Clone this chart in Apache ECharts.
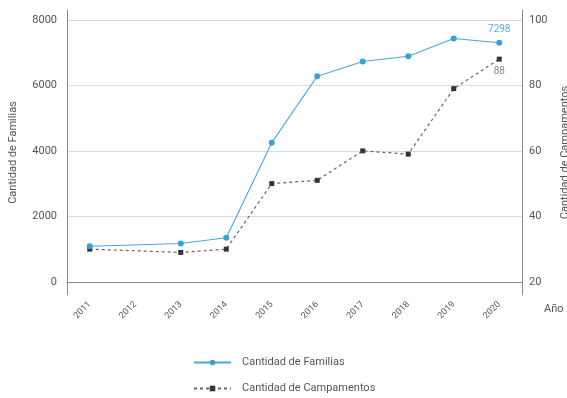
<!DOCTYPE html>
<html>
<head>
<meta charset="utf-8">
<script src="https://cdn.jsdelivr.net/npm/echarts@6/dist/echarts.min.js"></script>
<style>
html,body{margin:0;padding:0;background:#fff;}
#Chart{width:567px;height:398px;}
</style>
</head>
<body>
<div id="Chart"></div>
<script>
var years=['2011','2012','2013','2014','2015','2016','2017','2018','2019','2020']
var familias=[1090,null,1170,1350,4250,6280,6730,6890,7430,7298]
var campamentos=[30,null,29,30,50,51,60,59,79,88]
var leftTicks=[0,2000,4000,6000,8000]
var rightTicks=[20,40,60,80,100]

//图表
function drawChar(){
	var myChart=echarts.init(document.getElementById('Chart'))
	var font='Roboto'
	var lastF=familias.length-1
	option={
		animation:false,
		grid:{left:67,right:45,top:10,bottom:103,containLabel:false,outerBoundsMode:'none'},
		legend:{
			orient:'vertical',
			left:193,
			top:357,
			padding:0,
			itemWidth:37,
			itemHeight:7,
			itemGap:15,
			textStyle:{color:'#555',fontSize:11,fontFamily:font,padding:[0,0,0,6]},
			data:['Cantidad de Familias','Cantidad de Campamentos']
		},
		xAxis:{
			type:'category',
			data:years,
			boundaryGap:true,
			name:'Año',
			nameLocation:'end',
			nameGap:22,
			nameTextStyle:{color:'#555',fontSize:11,fontFamily:font,verticalAlign:'top',padding:[22,0,0,0]},
			axisLine:{lineStyle:{color:'#8a8a8a',width:1}},
			axisTick:{show:false},
			axisLabel:{rotate:45,color:'#555',fontSize:9,fontFamily:font,margin:8,interval:0}
		},
		yAxis:[
			{
				type:'value',
				min:-400,
				max:8300,
				name:'Cantidad de Familias',
				nameLocation:'middle',
				nameGap:48,
				nameTextStyle:{color:'#555',fontSize:11,fontFamily:font},
				axisLine:{show:true,lineStyle:{color:'#8a8a8a'}},
				axisTick:{show:false,customValues:leftTicks},
				axisLabel:{customValues:leftTicks,color:'#555',fontSize:11,fontFamily:font,margin:10,formatter:function(v){return String(v)}},
				splitLine:{show:true,lineStyle:{color:'#dcdcdc'}}
			},
			{
				type:'value',
				min:16,
				max:103,
				position:'right',
				name:'Cantidad de Campamentos',
				nameLocation:'middle',
				nameGap:38,
				nameTextStyle:{color:'#555',fontSize:11,fontFamily:font},
				axisLine:{show:true,lineStyle:{color:'#8a8a8a'}},
				axisTick:{show:false,customValues:rightTicks},
				axisLabel:{customValues:rightTicks,color:'#555',fontSize:11,fontFamily:font,margin:7,formatter:function(v){return String(v)}},
				splitLine:{show:false}
			}
		],
		series:[
			{
				name:'Cantidad de Familias',
				type:'line',
				yAxisIndex:0,
				data:familias,
				connectNulls:true,
				symbol:'circle',
				symbolSize:6,
				itemStyle:{color:'#3d9fd8'},
				lineStyle:{color:'#4aa8df',width:1.1},
				label:{
					show:true,
					position:'top',
					color:'#5aaee0',
					fontSize:10,
					fontFamily:font,
					formatter:function(p){return p.dataIndex==lastF?p.value:''}
				},
				z:3
			},
			{
				name:'Cantidad de Campamentos',
				type:'line',
				yAxisIndex:1,
				data:campamentos,
				connectNulls:true,
				symbol:'rect',
				symbolSize:5,
				itemStyle:{color:'#2f3441'},
				lineStyle:{color:'#666',width:1.2,type:[3,3]},
				label:{
					show:true,
					position:'bottom',
					color:'#888',
					fontSize:10,
					fontFamily:font,
					formatter:function(p){return p.dataIndex==lastF?p.value:''}
				},
				z:2
			}
		]
	}
	myChart.setOption(option)
}

drawChar()
</script>
</body>
</html>
